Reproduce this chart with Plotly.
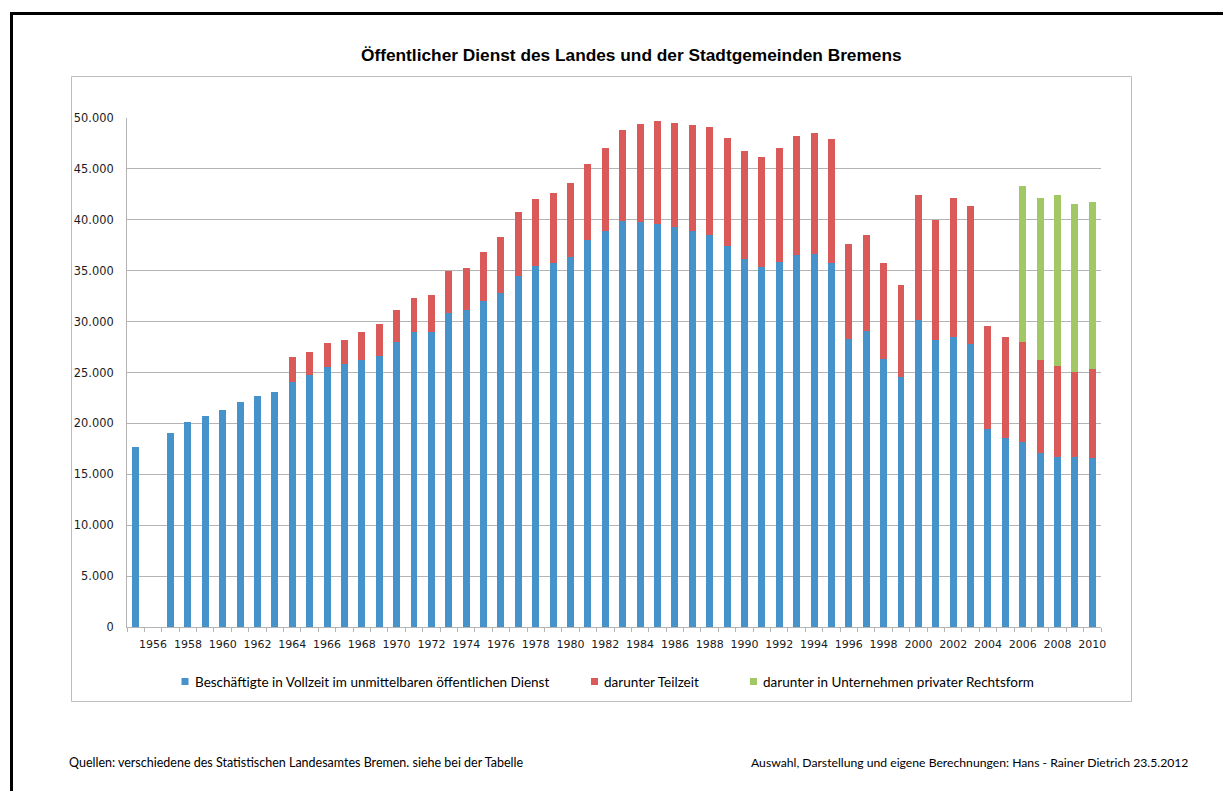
import plotly.graph_objects as go

# ---------------- data ----------------
years = list(range(1955, 2011))

vollzeit = [17650, None, 19020, 20180, 20740, 21270, 22070, 22670, 23060, 24070,
            24740, 25550, 25830, 26180, 26600, 27970, 28950, 29020, 30880, 31160,
            32000, 32850, 34460, 35480, 35790, 36390, 37970, 38880, 39860, 39790,
            39580, 39270, 38880, 38530, 37410, 36110, 35410, 35860, 36530, 36600,
            35790, 28320, 29060, 26350, 24600, 30140, 28210, 28490, 27790, 19440,
            18600, 18180, 17060, 16670, 16670, 16560]

teilzeit = [None, None, None, None, None, None, None, None, None, 2420,
            2320, 2310, 2350, 2810, 3160, 3190, 3370, 3620, 4070, 4070,
            4810, 5470, 6280, 6560, 6810, 7230, 7470, 8180, 8950, 9620,
            10140, 10280, 10420, 10630, 10660, 10600, 10740, 11200, 11690, 11970,
            12110, 9330, 9470, 9370, 8950, 12250, 11790, 13650, 13550, 10140,
            9930, 9820, 9150, 8980, 8390, 8740]

privat = [None] * 51 + [15340, 15900, 16780, 16490, 16490]

series_names = ["Beschäftigte in Vollzeit im unmittelbaren öffentlichen Dienst",
                "darunter Teilzeit",
                "darunter in Unternehmen privater Rechtsform"]
series_colors = ["#4692CA", "#DA5A5A", "#A2C765"]

y_ticks = [0, 5000, 10000, 15000, 20000, 25000, 30000, 35000, 40000, 45000, 50000]
x_ticks = list(range(1956, 2011, 2))

title_text = "Öffentlicher Dienst des Landes und der Stadtgemeinden Bremens"
footer_left = "Quellen: verschiedene des Statistischen Landesamtes Bremen. siehe bei der Tabelle"
footer_right = "Auswahl, Darstellung und eigene Berechnungen: Hans - Rainer Dietrich 23.5.2012"

# ---------------- layout geometry (page pixels) ----------------
# the browser page adds an 8px body margin, so the figure is drawn smaller
OFF = 8
W, H = 1231 - OFF, 791 - OFF
PL, PR, PT, PB = 127, 1101, 118, 627          # plot area in page pixels
ML, MT = PL - OFF, PT - OFF
MR, MB = W - (PR - OFF), H - (PB - OFF)
PW = W - ML - MR
PH = H - MT - MB


def px(x):
    return (x - OFF - ML) / PW


def py(y):
    return (H - MB - (y - OFF)) / PH


fig = go.Figure()
for vals, name, col in zip([vollzeit, teilzeit, privat], series_names, series_colors):
    fig.add_trace(go.Bar(x=years, y=vals, name=name, marker_color=col,
                         marker_line_width=0, width=0.4, showlegend=False))

grid_col = "#B4B4B4"
tick_font = dict(family="DejaVu Sans, Verdana, sans-serif", size=11, color="#1a1a1a")
text_font = dict(family="Lato, Carlito, Calibri, sans-serif", size=13.5, color="#000000")

fig.update_layout(
    width=W, height=H,
    margin=dict(l=ML, r=MR, t=MT, b=MB, pad=0),
    paper_bgcolor="white", plot_bgcolor="white",
    barmode="stack",
    separators=",.",
    showlegend=False,
    xaxis=dict(
        range=[1954.5, 2010.5], tickmode="array", tickvals=x_ticks,
        ticktext=[str(v) for v in x_ticks],
        ticks="", showgrid=False, zeroline=False,
        showline=True, linecolor=grid_col, linewidth=1,
        tickfont=tick_font, ticklabelstandoff=7,
        minor=dict(ticks="outside", tick0=1954.5, dtick=1, ticklen=4,
                   tickcolor=grid_col, tickwidth=1, showgrid=False),
    ),
    yaxis=dict(
        range=[0, 50000], tickmode="array", tickvals=y_ticks,
        tickformat=",d", ticks="", showgrid=True, gridcolor=grid_col, gridwidth=1,
        zeroline=False, showline=True, linecolor=grid_col, linewidth=1,
        tickfont=dict(tick_font, size=11.4), ticklabelstandoff=10,
    ),
)

shapes = []
# page border (black)
shapes.append(dict(type="line", xref="paper", yref="paper",
                   x0=px(10), x1=px(1227), y0=py(13.5), y1=py(13.5),
                   line=dict(color="black", width=3)))
shapes.append(dict(type="line", xref="paper", yref="paper",
                   x0=px(11.5), x1=px(11.5), y0=py(12), y1=py(800),
                   line=dict(color="black", width=3)))
shapes.append(dict(type="line", xref="paper", yref="paper",
                   x0=px(1226), x1=px(1226), y0=py(12), y1=py(800),
                   line=dict(color="black", width=2)))
# chart area frame
shapes.append(dict(type="rect", xref="paper", yref="paper",
                   x0=px(71.5), x1=px(1131.5), y0=py(76.5), y1=py(701.5),
                   line=dict(color="#BDBDBD", width=1), fillcolor="rgba(0,0,0,0)"))

# manual legend
legend_sq = [181.5, 591, 750]
legend_tx = [193, 602, 761]
legend_y = 681.5
annotations = []
for sx, tx, name, col in zip(legend_sq, legend_tx, series_names, series_colors):
    shapes.append(dict(type="rect", xref="paper", yref="paper",
                       x0=px(sx), x1=px(sx + 7), y0=py(legend_y - 3.5), y1=py(legend_y + 3.5),
                       line=dict(width=0), fillcolor=col))
    annotations.append(dict(text=name, xref="paper", yref="paper",
                            x=px(tx), y=py(legend_y), xanchor="left", yanchor="middle",
                            showarrow=False, font=text_font))

annotations.append(dict(text="<b>" + title_text + "</b>", xref="paper", yref="paper",
                        x=px(631), y=py(55), xanchor="center", yanchor="middle",
                        showarrow=False,
                        font=dict(family="Liberation Sans, Arial, sans-serif", size=17.3,
                                  color="black")))
annotations.append(dict(text=footer_left, xref="paper", yref="paper",
                        x=px(67), y=py(762), xanchor="left", yanchor="middle",
                        showarrow=False, font=dict(text_font, size=12.5)))
annotations.append(dict(text=footer_right, xref="paper", yref="paper",
                        x=px(1190), y=py(762), xanchor="right", yanchor="middle",
                        showarrow=False, font=dict(text_font, size=12.2)))

fig.update_layout(shapes=shapes, annotations=annotations)
fig.write_html("out.html")
